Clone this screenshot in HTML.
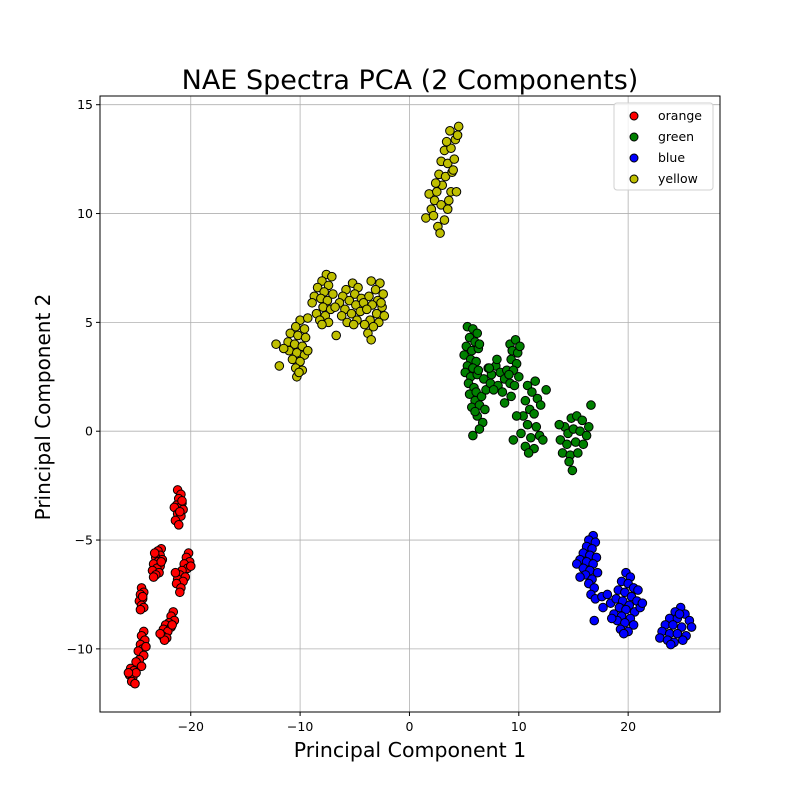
<!DOCTYPE html>
<html><head><meta charset="utf-8"><style>
body{margin:0;background:#fff}
svg text{font-family:"DejaVu Sans","Liberation Sans",sans-serif}
</style></head><body>
<svg id="chart" width="800" height="800" xmlns="http://www.w3.org/2000/svg">
<rect width="800" height="800" fill="#fff"/>
<text x="410" y="89" font-size="27" text-anchor="middle">NAE Spectra PCA (2 Components)</text>
<g id="grid"></g>
<g id="points"></g>
<rect x="100" y="96" width="620" height="616" fill="none" stroke="#000" stroke-width="1"/>
<g id="ticks"></g>
<text x="410" y="757" font-size="20.5" text-anchor="middle">Principal Component 1</text>
<text x="50" y="407" font-size="20" text-anchor="middle" transform="rotate(-90 50 407)">Principal Component 2</text>
<g id="legend"></g>
</svg>
<script>
const xTicks=[-20,-10,0,10,20];
const yTicks=[-10,-5,0,5,10,15];
const seriesNames=["orange","green","blue","yellow"];
const seriesColors=["#ff0000","#008000","#0000ff","#bfbf00"];
const orangePoints=[[-21.2,-2.7],[-20.9,-2.9],[-21.1,-3.1],[-20.8,-3.3],[-21.3,-3.4],[-21.0,-3.5],[-20.7,-3.6],[-21.5,-3.5],[-21.2,-3.8],[-20.9,-3.9],[-21.4,-4.1],[-21.1,-4.3],[-20.8,-3.2],[-21.0,-3.7],
[-22.7,-5.4],[-23.0,-5.5],[-22.8,-5.7],[-23.2,-5.8],[-22.6,-5.9],[-23.0,-6.0],[-23.4,-6.1],[-22.8,-6.2],[-23.1,-6.3],[-23.5,-6.4],[-22.9,-6.5],[-23.2,-6.6],[-23.4,-6.7],[-22.7,-6.0],[-23.3,-5.6],
[-20.2,-5.6],[-20.4,-5.8],[-20.1,-6.0],[-20.6,-6.1],[-20.3,-6.3],[-20.8,-6.4],[-21.0,-6.6],[-20.5,-6.7],[-21.2,-6.8],[-20.7,-6.9],[-21.3,-7.0],[-20.9,-7.2],[-21.0,-7.4],[-20.0,-6.2],[-21.4,-6.5],
[-24.5,-7.2],[-24.3,-7.4],[-24.6,-7.5],[-24.4,-7.7],[-24.7,-7.8],[-24.5,-8.0],[-24.3,-8.1],[-24.6,-8.2],[-24.4,-7.6],
[-21.6,-8.3],[-21.8,-8.5],[-21.5,-8.7],[-22.0,-8.8],[-22.3,-8.9],[-21.8,-9.0],[-22.5,-9.1],[-22.1,-9.2],[-22.6,-9.4],[-22.2,-9.5],[-22.4,-9.6],[-21.7,-8.9],[-22.8,-9.3],
[-24.3,-9.2],[-24.5,-9.4],[-24.2,-9.6],[-24.6,-9.8],[-24.4,-10.0],[-24.8,-10.1],[-24.3,-10.3],[-24.7,-10.5],[-25.0,-10.6],[-24.5,-10.8],[-24.1,-9.9],
[-25.5,-10.9],[-25.2,-11.0],[-25.6,-11.2],[-25.3,-11.3],[-25.0,-11.1],[-25.4,-11.5],[-25.1,-11.6],[-25.7,-11.1]];
const greenPoints=[[5.3,4.8],[5.8,4.7],[6.2,4.5],[5.5,4.3],[6.0,4.1],[5.2,3.9],[5.7,3.7],[6.3,3.8],[5.0,3.5],[5.6,3.3],[6.1,3.2],[5.3,3.0],[5.8,2.9],[5.1,2.7],[5.6,2.5],[6.2,2.6],[5.4,2.2],[5.9,2.0],[5.5,1.7],[6.0,1.4],[5.7,1.1],[6.4,4.0],
[6.3,2.8],[6.8,2.4],[7.2,2.9],[6.1,1.8],[6.6,1.6],[7.0,1.9],[6.4,1.2],[6.9,1.0],[6.2,0.7],[6.7,0.4],[6.4,0.1],[5.8,-0.2],[7.4,2.2],[6.0,0.9],
[7.5,2.6],[7.9,3.0],[8.3,2.7],[8.7,2.4],[8.1,2.1],[7.7,1.9],[8.9,2.8],[8.5,1.8],[9.2,2.2],[8.0,3.3],[8.7,1.3],[7.3,2.9],
[9.2,4.0],[9.7,4.2],[9.4,3.7],[9.9,3.6],[9.3,3.3],[9.8,3.1],[9.5,2.8],[9.1,2.6],[10.0,2.5],[9.6,2.1],[9.3,1.6],[10.1,3.9],
[10.8,2.1],[11.5,2.3],[11.2,1.8],[10.6,1.4],[11.7,1.5],[11.0,1.0],[10.4,0.7],[11.4,0.8],[12.0,1.2],[10.8,0.3],[11.6,0.2],[10.2,-0.1],[11.1,-0.3],[11.9,-0.2],[10.6,-0.7],[11.4,-0.8],[10.9,-1.0],[9.5,-0.4],[9.8,0.7],[12.5,1.9],[12.2,-0.4],
[14.2,0.2],[14.8,0.6],[15.3,0.7],[15.8,0.5],[16.6,1.2],[14.5,-0.1],[15.0,0.1],[15.6,0.0],[16.2,-0.2],[13.8,-0.4],[14.4,-0.6],[15.2,-0.5],[15.9,-0.6],[16.4,0.2],[14.0,-1.0],[14.7,-1.1],[15.4,-1.0],[14.6,-1.4],[14.9,-1.8],[13.7,0.3]];
const bluePoints=[[16.8,-4.8],[16.4,-5.0],[17.0,-5.1],[16.2,-5.3],[16.7,-5.4],[15.9,-5.6],[16.5,-5.7],[17.1,-5.8],[15.6,-5.9],[16.2,-6.0],[16.8,-6.1],[15.3,-6.1],[15.9,-6.3],[16.5,-6.4],[17.2,-6.5],[16.1,-6.6],[16.7,-6.8],[15.6,-6.7],[16.4,-7.0],[16.9,-7.2],[16.6,-7.5],[17.0,-7.7],[16.9,-8.7],[17.6,-7.6],[18.1,-7.5],[17.7,-8.1],[18.4,-7.9],
[19.8,-6.5],[20.2,-6.7],[19.4,-6.9],[20.0,-7.0],[20.5,-7.2],[19.1,-7.3],[19.7,-7.4],[20.3,-7.6],[18.9,-7.7],[19.5,-7.8],[20.8,-7.8],[20.1,-8.0],[19.2,-8.1],[19.8,-8.2],[20.6,-8.3],[18.7,-8.4],[19.4,-8.5],[20.2,-8.6],[19.0,-8.7],[19.7,-8.8],[20.5,-8.9],[19.3,-9.1],[20.0,-9.2],[19.6,-9.3],[21.1,-8.1],[18.5,-8.6],[20.9,-7.3],[21.3,-7.9],
[24.8,-8.1],[24.3,-8.3],[25.2,-8.4],[23.8,-8.6],[24.5,-8.6],[25.6,-8.7],[23.4,-8.9],[24.1,-8.9],[24.9,-9.0],[25.8,-9.0],[23.1,-9.2],[23.8,-9.3],[24.5,-9.3],[25.3,-9.4],[22.9,-9.5],[23.6,-9.6],[24.2,-9.7],[23.9,-9.8],[25.0,-9.6],[24.7,-8.4]];
const yellowPoints=[[1.5,9.8],[2.0,10.2],[2.6,9.4],[2.8,9.1],[2.3,10.6],[1.8,10.9],[3.2,9.7],[2.9,10.4],[3.5,10.2],[2.5,11.0],[3.0,11.3],[3.8,11.0],[2.7,11.8],[3.3,11.7],[3.9,11.9],[2.9,12.4],[3.5,12.3],[4.1,12.5],[3.2,12.9],[3.8,13.0],[3.4,13.3],[4.2,13.4],[3.7,13.8],[4.5,14.0],[4.4,13.6],[4.0,12.0],[2.4,11.4],[3.6,10.6],[4.3,11.0],[2.2,9.9],
[-10.0,5.1],[-10.4,4.8],[-9.6,4.7],[-10.9,4.5],[-10.2,4.4],[-9.5,4.3],[-11.1,4.1],[-10.5,4.0],[-9.8,3.9],[-11.0,3.7],[-10.3,3.6],[-9.6,3.5],[-10.7,3.3],[-10.0,3.2],[-10.4,2.9],[-9.8,2.8],[-10.3,2.5],[-10.1,2.7],[-12.2,4.0],[-11.9,3.0],[-11.5,3.8],[-9.3,3.7],
[-7.6,7.2],[-7.1,7.1],[-8.0,6.9],[-7.4,6.7],[-8.4,6.6],[-7.8,6.4],[-7.0,6.3],[-8.7,6.2],[-8.1,6.1],[-7.5,6.0],[-8.9,5.9],[-7.9,5.7],[-7.2,5.6],[-8.5,5.4],[-7.7,5.3],[-8.2,5.1],[-7.4,5.0],[-9.3,5.2],[-8.0,4.9],
[-5.2,6.8],[-4.7,6.6],[-5.8,6.5],[-5.0,6.3],[-6.1,6.2],[-4.4,6.1],[-5.5,6.0],[-6.4,5.9],[-4.9,5.8],[-5.9,5.6],[-4.5,5.5],[-5.3,5.4],[-6.2,5.3],[-4.8,5.1],[-5.7,5.0],[-5.1,4.9],[-6.7,4.4],[-6.8,5.7],[-4.2,5.9],
[-3.5,6.9],[-2.7,6.8],[-3.1,6.5],[-2.4,6.3],[-3.7,6.2],[-2.9,6.0],[-3.4,5.8],[-2.5,5.7],[-3.9,5.6],[-3.0,5.4],[-2.3,5.3],[-3.6,5.1],[-2.8,5.0],[-3.3,4.8],[-3.8,4.5],[-3.5,4.2],[-2.6,5.9],[-4.1,4.9]];

const NS="http://www.w3.org/2000/svg";
const X0=100,X1=720,Y0=96,Y1=712,xMin=-28.3,xMax=28.4,yMin=-12.9,yMax=15.4;
const sx=v=>X0+(v-xMin)/(xMax-xMin)*(X1-X0);
const sy=v=>Y1-(v-yMin)/(yMax-yMin)*(Y1-Y0);
function mk(tag,attrs,parent,text){const e=document.createElementNS(NS,tag);for(const k in attrs)e.setAttribute(k,attrs[k]);if(text!==undefined)e.textContent=text;parent.appendChild(e);return e;}
const grid=document.getElementById('grid'),ticks=document.getElementById('ticks'),pts=document.getElementById('points'),leg=document.getElementById('legend');
xTicks.forEach(t=>{const x=sx(t);
 const g=mk('line',{x1:x,x2:x,y1:Y0,y2:Y1,stroke:'#b0b0b0','stroke-width':0.8},grid);
 
 
 const tk=mk('line',{x1:x,x2:x,y1:Y1,y2:Y1+4,stroke:'#000'},ticks);
 
 
 const lb=mk('text',{x:x,y:Y1+19,'font-size':12.5,'text-anchor':'middle'},ticks,t<0?'\u2212'+(-t):String(t));
 
 
});
yTicks.forEach(t=>{const y=sy(t);
 const g=mk('line',{x1:X0,x2:X1,y1:y,y2:y,stroke:'#b0b0b0','stroke-width':0.8},grid);
 
 
 const tk=mk('line',{x1:X0-4,x2:X0,y1:y,y2:y,stroke:'#000'},ticks);
 
 
 const lb=mk('text',{x:X0-7,y:y+4.5,'font-size':12.5,'text-anchor':'end'},ticks,t<0?'\u2212'+(-t):String(t));
 
 
});
[orangePoints,greenPoints,bluePoints,yellowPoints].forEach((arr,i)=>{
 arr.forEach(p=>{
  const c=mk('circle',{cx:sx(p[0]),cy:sy(p[1]),r:4.3,fill:seriesColors[i],stroke:'#000','stroke-width':1},pts);
  
  
 });
});
const box=mk('rect',{x:614,y:103,width:99,height:87,rx:3,fill:'#fff','fill-opacity':0.8,stroke:'#d0d0d0'},leg);


seriesNames.forEach((n,i)=>{const y=115+i*21;
 const c=mk('circle',{cx:634,cy:y+1,r:4,fill:seriesColors[i],stroke:'#000'},leg);
 
 
 const t=mk('text',{x:658,y:y+5,'font-size':12.5},leg,n);
 
 
});
</script>
</body></html>
